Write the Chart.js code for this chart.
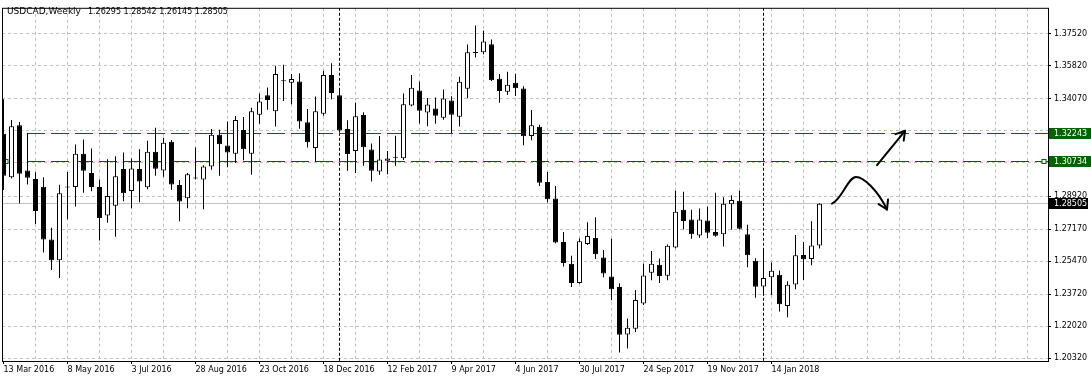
<!DOCTYPE html>
<html lang="en">
<head>
<meta charset="UTF-8">
<title>USDCAD Weekly</title>
<script src="https://cdn.jsdelivr.net/npm/chart.js"></script>
<style>
    html, body { margin: 0; padding: 0; background: #fff; }
    #chart { display: block; }
</style>
</head>
<body>
<canvas id="chart" width="1091" height="382"></canvas>
<script>
// weekly candles, first one is the week of 13 Mar 2016
const opens = [
    1.32221, 1.29913, 1.32674, 1.30278, 1.29824, 1.29408, 1.26620, 1.25516, 1.29371, 1.29392,
    1.31163, 1.30137, 1.29392, 1.27881, 1.28402, 1.30346, 1.29184, 1.30346, 1.29382, 1.31268,
    1.30278, 1.31789, 1.29497, 1.28798, 1.29850, 1.29788, 1.30486, 1.32169, 1.31596, 1.31163,
    1.32414, 1.31153, 1.33227, 1.34253, 1.33404, 1.34998, 1.34915, 1.34983, 1.32831, 1.31466,
    1.33279, 1.35337, 1.34253, 1.32466, 1.31310, 1.33211, 1.31388, 1.30216, 1.30789, 1.30945,
    1.30919, 1.33717, 1.34514, 1.33341, 1.33560, 1.33065, 1.33982, 1.33122, 1.34602, 1.36520,
    1.36530, 1.36962, 1.35129, 1.34446, 1.34915, 1.34618, 1.32102, 1.32586, 1.29668, 1.28782,
    1.26480, 1.25333, 1.24317, 1.26371, 1.26699, 1.25657, 1.24651, 1.24094, 1.21577, 1.21890,
    1.23224, 1.24860, 1.25277, 1.24693, 1.26193, 1.28195, 1.27673, 1.26829, 1.27621, 1.27011,
    1.26892, 1.28486, 1.28663, 1.26892, 1.25485, 1.24130, 1.24615, 1.24755, 1.23088, 1.24234,
    1.25798, 1.25589, 1.26295
];
const highs = [
    1.34045, 1.32950, 1.32846, 1.32257, 1.30173, 1.29913, 1.27235, 1.29512, 1.30189, 1.31648,
    1.31908, 1.31440, 1.29788, 1.30866, 1.31023, 1.31231, 1.30903, 1.31403, 1.31841, 1.32534,
    1.32013, 1.31893, 1.29773, 1.30137, 1.31492, 1.30554, 1.32466, 1.32429, 1.32862, 1.33159,
    1.33107, 1.33602, 1.34357, 1.34670, 1.35816, 1.35868, 1.35384, 1.35426, 1.33524, 1.34186,
    1.35556, 1.35957, 1.34602, 1.32935, 1.33873, 1.33352, 1.31700, 1.32102, 1.31310, 1.32117,
    1.34357, 1.35337, 1.34983, 1.34112, 1.34133, 1.34566, 1.34201, 1.35243, 1.36947, 1.37952,
    1.37692, 1.37213, 1.35389, 1.35504, 1.35399, 1.34738, 1.33472, 1.32690, 1.30189, 1.29445,
    1.27011, 1.25761, 1.26673, 1.27532, 1.27793, 1.26058, 1.26662, 1.24302, 1.22427, 1.23938,
    1.25344, 1.26011, 1.25605, 1.26350, 1.29200, 1.29148, 1.28195, 1.28262, 1.28350, 1.29095,
    1.28850, 1.28955, 1.29200, 1.27392, 1.25620, 1.26058, 1.25396, 1.24979, 1.24406, 1.26855,
    1.26490, 1.27585, 1.28542
];
const lows = [
    1.29236, 1.29850, 1.28537, 1.29527, 1.27443, 1.25932, 1.24995, 1.24578, 1.27688, 1.28366,
    1.29095, 1.29173, 1.26558, 1.27506, 1.26761, 1.28637, 1.28277, 1.28585, 1.29278, 1.29997,
    1.29945, 1.29236, 1.27585, 1.28277, 1.29788, 1.28225, 1.30309, 1.29997, 1.30450, 1.30674,
    1.30814, 1.30049, 1.32742, 1.33487, 1.32602, 1.33956, 1.33784, 1.32482, 1.31492, 1.30736,
    1.33175, 1.34045, 1.32274, 1.30257, 1.30137, 1.30518, 1.29695, 1.30049, 1.30075, 1.30518,
    1.30830, 1.33680, 1.32758, 1.32612, 1.32742, 1.32966, 1.32257, 1.32602, 1.34097, 1.36259,
    1.36426, 1.35009, 1.33862, 1.34269, 1.34217, 1.31612, 1.31872, 1.29445, 1.28574, 1.26412,
    1.25188, 1.24094, 1.24265, 1.26318, 1.25579, 1.24615, 1.23401, 1.20629, 1.20837, 1.21713,
    1.23146, 1.24458, 1.24317, 1.24458, 1.26152, 1.27142, 1.26662, 1.26714, 1.26699, 1.26766,
    1.26245, 1.27131, 1.27142, 1.25151, 1.23536, 1.23661, 1.23661, 1.22807, 1.22494, 1.23974,
    1.24474, 1.25256, 1.26145
];
const closes = [
    1.29997, 1.32622, 1.30100, 1.29892, 1.28121, 1.26610, 1.25516, 1.29069, 1.29392, 1.31163,
    1.30257, 1.29392, 1.27756, 1.28923, 1.29965, 1.29069, 1.30382, 1.29695, 1.31268, 1.30361,
    1.31737, 1.29527, 1.28627, 1.30070, 1.29866, 1.30486, 1.32169, 1.31664, 1.31231, 1.32950,
    1.31403, 1.33404, 1.33925, 1.34008, 1.35389, 1.35019, 1.35123, 1.32862, 1.31768, 1.33404,
    1.35337, 1.34373, 1.32393, 1.31143, 1.33144, 1.31508, 1.30257, 1.30851, 1.30903, 1.30960,
    1.33784, 1.34654, 1.33435, 1.33774, 1.33175, 1.34081, 1.33227, 1.34967, 1.36530, 1.36494,
    1.37108, 1.35050, 1.34477, 1.34811, 1.34634, 1.32081, 1.32674, 1.29616, 1.28746, 1.26454,
    1.25370, 1.24317, 1.26527, 1.26803, 1.25839, 1.24808, 1.23974, 1.21567, 1.21947, 1.23406,
    1.24703, 1.25333, 1.24682, 1.26282, 1.28090, 1.27600, 1.26892, 1.27673, 1.26975, 1.26818,
    1.28507, 1.28715, 1.27183, 1.25777, 1.24109, 1.24578, 1.24964, 1.23192, 1.24214, 1.25777,
    1.25568, 1.26298, 1.28505
];

// every 8th week gets a date label
const dateLabels = ['13 Mar 2016', '8 May 2016', '3 Jul 2016', '28 Aug 2016', '23 Oct 2016', '18 Dec 2016',
    '12 Feb 2017', '9 Apr 2017', '4 Jun 2017', '30 Jul 2017', '24 Sep 2017', '19 Nov 2017', '14 Jan 2018'];
const priceTicks = [1.20320, 1.22020, 1.23720, 1.25470, 1.27170, 1.28920, 1.30670, 1.32370, 1.34070, 1.35820, 1.37520];
const hiddenTicks = [1.30670, 1.32370];   // sit under the level tags

const symbolName = 'USDCAD,Weekly';
const levels = [1.32243, 1.30734];
const lastPrice = 1.28505;
const yearBreaks = [42, 95];   // first week of 2017 and 2018

// hand-drawn arrows, [week index, price]
const arrowUp = [[109.19, 1.30550], [112.69, 1.32375]];
const arrowCurve = [[103.56, 1.28518], [104.81, 1.28726], [105.56, 1.29925], [106.56, 1.29925],
    [107.56, 1.29925], [109.31, 1.29195], [110.44, 1.28205]];

const FONT = '"DejaVu Sans", sans-serif';
Chart.defaults.font.family = FONT;
Chart.defaults.font.size = 8;
Chart.defaults.color = '#000';

function arrowHead(ctx, fx, fy, tx, ty) {
    const ang = Math.atan2(ty - fy, tx - fx);
    const len = 10;
    ctx.beginPath();
    ctx.moveTo(tx - len * Math.cos(ang - 0.55), ty - len * Math.sin(ang - 0.55));
    ctx.lineTo(tx, ty);
    ctx.lineTo(tx - len * Math.cos(ang + 0.55), ty - len * Math.sin(ang + 0.55));
    ctx.stroke();
}

const overlay = {
    id: 'overlay',
    beforeDatasetsDraw(chart) {
        const {ctx, chartArea: a, scales: {x, y}} = chart;
        ctx.save();
        ctx.beginPath();
        ctx.rect(a.left, a.top, a.right - a.left, a.bottom - a.top);
        ctx.clip();
        ctx.lineWidth = 1;

        // last price line
        const py = Math.floor(y.getPixelForValue(lastPrice)) + 0.5;
        ctx.strokeStyle = '#c0c0c0';
        ctx.beginPath(); ctx.moveTo(a.left, py); ctx.lineTo(a.right, py); ctx.stroke();

        // period separators
        ctx.strokeStyle = '#000';
        ctx.setLineDash([3, 2]);
        yearBreaks.forEach(i => {
            const px = Math.floor(x.getPixelForValue(i)) + 0.5;
            ctx.beginPath(); ctx.moveTo(px, a.top); ctx.lineTo(px, a.bottom); ctx.stroke();
        });

        // support / resistance
        ctx.strokeStyle = '#006400';
        ctx.setLineDash([18, 6]);
        const x0 = Math.floor(x.getPixelForValue(3));
        levels.forEach(v => {
            const ly = Math.floor(y.getPixelForValue(v)) + 0.5;
            ctx.beginPath(); ctx.moveTo(x0, ly); ctx.lineTo(a.right, ly); ctx.stroke();
        });
        ctx.setLineDash([]);
        const ly = Math.floor(y.getPixelForValue(levels[1])) + 0.5;
        ctx.fillStyle = '#fff';
        [a.left + 4, a.right - 4].forEach(mx => {
            ctx.fillRect(mx - 2, ly - 2, 4, 4);
            ctx.strokeRect(mx - 2, ly - 2, 4, 4);
        });
        ctx.restore();
    },
    afterDatasetsDraw(chart) {
        const {ctx, scales: {x, y}} = chart;
        const p = pt => [x.getPixelForValue(pt[0]), y.getPixelForValue(pt[1])];
        ctx.save();
        ctx.strokeStyle = '#000';
        ctx.lineWidth = 2;
        ctx.lineCap = 'round';
        ctx.lineJoin = 'round';

        const [s, e] = arrowUp.map(p);
        ctx.beginPath(); ctx.moveTo(s[0], s[1]); ctx.lineTo(e[0], e[1]); ctx.stroke();
        arrowHead(ctx, s[0], s[1], e[0], e[1]);

        const c = arrowCurve.map(p);
        ctx.beginPath();
        ctx.moveTo(c[0][0], c[0][1]);
        ctx.bezierCurveTo(c[1][0], c[1][1], c[2][0], c[2][1], c[3][0], c[3][1]);
        ctx.bezierCurveTo(c[4][0], c[4][1], c[5][0], c[5][1], c[6][0], c[6][1]);
        ctx.stroke();
        arrowHead(ctx, c[5][0], c[5][1], c[6][0], c[6][1]);
        ctx.restore();
    },
    afterDraw(chart) {
        const {ctx, chartArea: a, scales: {y}} = chart;
        ctx.save();
        ctx.strokeStyle = '#000';
        ctx.lineWidth = 1;
        ctx.strokeRect(a.left + 0.5, a.top + 0.5, a.right - a.left, a.bottom - a.top);

        // price tags on the right
        ctx.font = '8px ' + FONT;
        ctx.textBaseline = 'middle';
        const tag = (v, bg, w) => {
            const ty = Math.floor(y.getPixelForValue(v));
            ctx.fillStyle = bg;
            ctx.fillRect(a.right + 1, ty - 5, w, 11);
            ctx.fillStyle = '#fff';
            ctx.fillText(v.toFixed(5), a.right + 6, ty + 0.5);
        };
        levels.forEach(v => tag(v, '#006400', 42));
        tag(lastPrice, '#000', 39);

        // symbol + OHLC of the last bar
        const n = opens.length - 1;
        ctx.fillStyle = '#000';
        ctx.textBaseline = 'alphabetic';
        ctx.font = '9px ' + FONT;
        ctx.fillText(symbolName, 7, 13.5);
        const nameW = ctx.measureText(symbolName).width;
        ctx.font = '8px ' + FONT;
        const ohlc = [opens[n], highs[n], lows[n], closes[n]].map(v => v.toFixed(5)).join(' ');
        ctx.fillText(ohlc, 7 + nameW + 7, 13.5);
        ctx.restore();
    }
};

const idx = opens.map((o, i) => i);

new Chart(document.getElementById('chart'), {
    type: 'bar',
    data: {
        datasets: [{
            label: 'body',
            order: 0,
            data: idx.map(i => ({x: i, y: [opens[i], closes[i]]})),
            backgroundColor: idx.map(i => closes[i] >= opens[i] ? '#fff' : '#000'),
            borderColor: '#000',
            borderWidth: 1,
            borderSkipped: false,
            barThickness: 5,
            minBarLength: 1,
            inflateAmount: 0,
            grouped: false
        }, {
            label: 'wick',
            order: 1,
            data: idx.map(i => ({x: i, y: [lows[i], highs[i]]})),
            backgroundColor: '#000',
            borderWidth: 0,
            barThickness: 1,
            inflateAmount: 0,
            grouped: false
        }]
    },
    options: {
        responsive: false,
        animation: false,
        devicePixelRatio: 1,
        layout: {padding: {left: 2, top: 2, right: 0, bottom: 0}},
        plugins: {legend: {display: false}, tooltip: {enabled: false}},
        scales: {
            x: {
                type: 'linear',
                offset: false,
                min: -0.1875,
                max: 130.5625,
                afterBuildTicks: s => { s.ticks = []; for (let v = 0; v <= 128; v += 4) s.ticks.push({value: v}); },
                afterFit: s => { s.height = 21; },
                grid: {
                    offset: false,
                    color: c => (c.tick && c.tick.value > 0) ? '#c0c0c0' : 'rgba(0,0,0,0)',
                    tickColor: c => (c.tick && c.tick.value % 8 === 0 && c.tick.value / 8 < dateLabels.length) ? '#000' : 'rgba(0,0,0,0)',
                    tickLength: 3,
                    tickBorderDash: []
                },
                border: {display: false, dash: [3, 3]},
                ticks: {
                    autoSkip: false,
                    maxRotation: 0,
                    minRotation: 0,
                    align: 'start',
                    padding: 1,
                    callback: v => (v % 8 === 0 && dateLabels[v / 8]) ? dateLabels[v / 8] : ''
                }
            },
            y: {
                type: 'linear',
                position: 'right',
                min: 1.20179,
                max: 1.38891,
                afterBuildTicks: s => { s.ticks = priceTicks.map(v => ({value: v})); },
                afterFit: s => { s.width = 43; },
                grid: {
                    color: '#c0c0c0',
                    tickColor: '#000',
                    tickLength: 3,
                    tickBorderDash: []
                },
                border: {display: false, dash: [3, 3]},
                ticks: {
                    padding: 3,
                    callback: v => hiddenTicks.includes(v) ? '' : v.toFixed(5)
                }
            }
        }
    },
    plugins: [overlay]
});
</script>
</body>
</html>
